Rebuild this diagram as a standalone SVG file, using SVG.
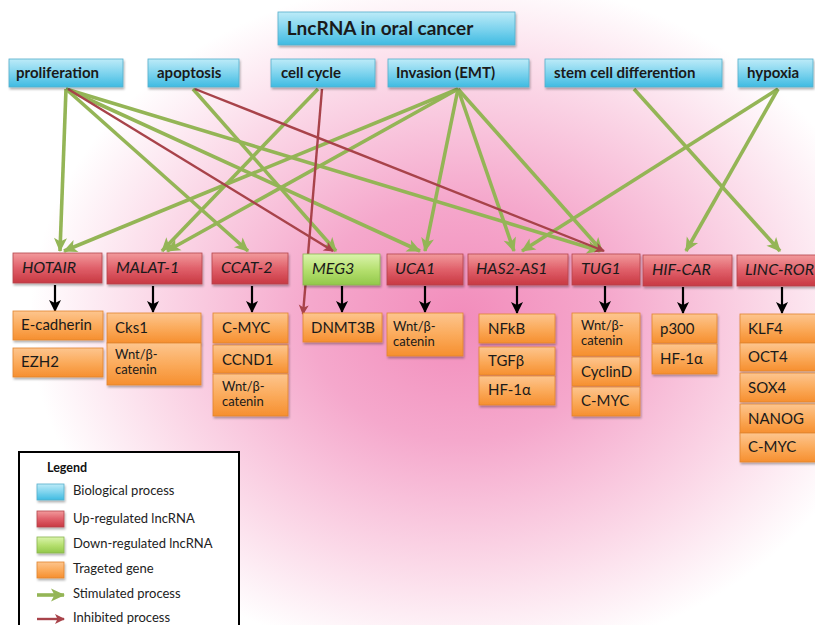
<svg xmlns="http://www.w3.org/2000/svg" width="815" height="625" viewBox="0 0 815 625">
<defs>
<radialGradient id="bg" gradientUnits="userSpaceOnUse" cx="460" cy="320" r="430" gradientTransform="translate(460 320) scale(1 0.8) translate(-460 -320)">
<stop offset="0" stop-color="#f28cbb"/>
<stop offset="0.35" stop-color="#f5a8cc"/>
<stop offset="0.72" stop-color="#fbd9e8"/>
<stop offset="1" stop-color="#ffffff"/>
</radialGradient>
<linearGradient id="gBlue" x1="0" y1="0" x2="0" y2="1">
<stop offset="0" stop-color="#bdebf8"/>
<stop offset="0.5" stop-color="#7fd4ee"/>
<stop offset="1" stop-color="#3fbbe2"/>
</linearGradient>
<linearGradient id="gRed" x1="0" y1="0" x2="0" y2="1">
<stop offset="0" stop-color="#f29a9c"/>
<stop offset="0.5" stop-color="#e0606a"/>
<stop offset="1" stop-color="#c83842"/>
</linearGradient>
<linearGradient id="gGreen" x1="0" y1="0" x2="0" y2="1">
<stop offset="0" stop-color="#dbf4ad"/>
<stop offset="0.5" stop-color="#b6e070"/>
<stop offset="1" stop-color="#92c84a"/>
</linearGradient>
<linearGradient id="gOrange" x1="0" y1="0" x2="0" y2="1">
<stop offset="0" stop-color="#fdc58e"/>
<stop offset="0.5" stop-color="#fbab5c"/>
<stop offset="1" stop-color="#f68f2f"/>
</linearGradient>
<filter id="sh" x="-10%" y="-10%" width="130%" height="150%">
<feDropShadow dx="1" dy="2" stdDeviation="1.2" flood-color="#000" flood-opacity="0.3"/>
</filter>
<marker id="ahG" markerUnits="userSpaceOnUse" markerWidth="16" markerHeight="16" viewBox="0 0 16 16" refX="14" refY="8" orient="auto">
<path d="M1,1.5 L15,8 L1,14.5 L4.5,8 Z" fill="#94b556"/>
</marker>
<marker id="ahR" markerUnits="userSpaceOnUse" markerWidth="12" markerHeight="12" viewBox="0 0 12 12" refX="10" refY="6" orient="auto">
<path d="M1,1 L11,6 L1,11 L3.5,6 Z" fill="#a8434a"/>
</marker>
<marker id="ahK" markerUnits="userSpaceOnUse" markerWidth="14" markerHeight="14" viewBox="0 0 14 14" refX="12" refY="7" orient="auto">
<path d="M1,1 L13,7 L1,13 L4,7 Z" fill="#000"/>
</marker>
<style>
.proc{fill:url(#gBlue);stroke:#56aecb;stroke-width:0.8;filter:url(#sh)}
.up{fill:url(#gRed);stroke:#b5454c;stroke-width:0.8;filter:url(#sh)}
.down{fill:url(#gGreen);stroke:#8bb451;stroke-width:0.8;filter:url(#sh)}
.gene{fill:url(#gOrange);stroke:#e0852f;stroke-width:0.8;filter:url(#sh)}
.pt{font-family:Lato,"Open Sans",sans-serif;font-weight:bold;font-size:15px;fill:#1a1a1a}
.title{font-family:Lato,"Open Sans",sans-serif;font-weight:bold;font-size:19px;fill:#1a1a1a}
.lt{font-family:Lato,"Open Sans",sans-serif;font-style:italic;font-size:16px;fill:#1a1a1a}
.gt{font-family:Lato,"Open Sans",sans-serif;font-size:15px;fill:#1a1a1a}
.gs{font-family:Lato,"Open Sans",sans-serif;font-size:13px;fill:#1a1a1a}
.leg{font-family:Lato,"Open Sans",sans-serif;font-size:13px;fill:#222}
.legh{font-family:Lato,"Open Sans",sans-serif;font-weight:bold;font-size:12.5px;fill:#111}
.cg{stroke:#94b556;stroke-width:3.6;fill:none;marker-end:url(#ahG)}
.cr{stroke:#a8434a;stroke-width:2.4;fill:none;marker-end:url(#ahR)}
.ck{stroke:#000;stroke-width:2.2;fill:none;marker-end:url(#ahK)}
</style>
</defs>
<rect x="0" y="0" width="815" height="625" fill="#fff"/>
<rect x="0" y="0" width="815" height="625" fill="url(#bg)"/>

<g id="connectors">
<line class="cg" x1="66" y1="89" x2="60" y2="251"/>
<line class="cg" x1="66" y1="89" x2="248" y2="251"/>
<line class="cg" x1="66" y1="89" x2="420" y2="251"/>
<line class="cg" x1="66" y1="89" x2="600" y2="251"/>
<line class="cg" x1="193" y1="89" x2="336" y2="251"/>
<line class="cg" x1="318" y1="89" x2="162" y2="251"/>
<line class="cg" x1="458" y1="89" x2="64" y2="251"/>
<line class="cg" x1="458" y1="89" x2="167" y2="251"/>
<line class="cg" x1="458" y1="89" x2="425" y2="251"/>
<line class="cg" x1="458" y1="89" x2="514" y2="251"/>
<line class="cg" x1="458" y1="89" x2="602" y2="251"/>
<line class="cg" x1="634" y1="89" x2="780" y2="251"/>
<line class="cg" x1="778" y1="89" x2="522" y2="251"/>
<line class="cg" x1="778" y1="89" x2="686" y2="251"/>
<line class="cr" x1="68" y1="89" x2="333" y2="251"/>
<line class="cr" x1="195" y1="89" x2="604" y2="251"/>
<line class="cr" x1="322" y1="89" x2="303" y2="314"/>
<line class="ck" x1="55" y1="285" x2="55" y2="311"/>
<line class="ck" x1="153" y1="286" x2="153" y2="312"/>
<line class="ck" x1="252" y1="286" x2="252" y2="312"/>
<line class="ck" x1="342" y1="286" x2="342" y2="312"/>
<line class="ck" x1="425" y1="286" x2="425" y2="312"/>
<line class="ck" x1="517" y1="286" x2="517" y2="313"/>
<line class="ck" x1="605" y1="286" x2="605" y2="312"/>
<line class="ck" x1="683" y1="287" x2="683" y2="313"/>
<line class="ck" x1="782" y1="287" x2="782" y2="313"/>
</g>

<g id="title"><rect class="proc" x="278" y="12" width="237" height="33"/><text class="title" x="380" y="35" text-anchor="middle">LncRNA in oral cancer</text></g>

<g id="proliferation"><rect class="proc" x="9" y="59" width="114" height="28"/><text class="pt" x="16" y="78">proliferation</text></g>
<g id="apoptosis"><rect class="proc" x="148" y="59" width="91" height="28"/><text class="pt" x="157" y="78">apoptosis</text></g>
<g id="cellcycle"><rect class="proc" x="271" y="59" width="104" height="28"/><text class="pt" x="281" y="78">cell cycle</text></g>
<g id="invasion"><rect class="proc" x="388" y="59" width="141" height="28"/><text class="pt" x="396" y="78">Invasion (EMT)</text></g>
<g id="stemcell"><rect class="proc" x="545" y="59" width="177" height="28"/><text class="pt" x="554" y="78">stem cell differention</text></g>
<g id="hypoxia"><rect class="proc" x="738" y="59" width="75" height="28"/><text class="pt" x="747" y="78">hypoxia</text></g>

<g id="HOTAIR"><rect class="up" x="13" y="253" width="89" height="30"/><text class="lt" x="22" y="273">HOTAIR</text></g>
<g id="MALAT-1"><rect class="up" x="107" y="253" width="95" height="31"/><text class="lt" x="116" y="273">MALAT-1</text></g>
<g id="CCAT-2"><rect class="up" x="212" y="253" width="76" height="31"/><text class="lt" x="221" y="273">CCAT-2</text></g>
<g id="MEG3"><rect class="down" x="303" y="254" width="77" height="31"/><text class="lt" x="312" y="274">MEG3</text></g>
<g id="UCA1"><rect class="up" x="387" y="254" width="76" height="31"/><text class="lt" x="395" y="274">UCA1</text></g>
<g id="HAS2-AS1"><rect class="up" x="468" y="254" width="100" height="31"/><text class="lt" x="476" y="274">HAS2-AS1</text></g>
<g id="TUG1"><rect class="up" x="572" y="254" width="68" height="31"/><text class="lt" x="581" y="274">TUG1</text></g>
<g id="HIF-CAR"><rect class="up" x="643" y="255" width="89" height="31"/><text class="lt" x="652" y="275">HIF-CAR</text></g>
<g id="LINC-ROR"><rect class="up" x="737" y="255" width="82" height="31"/><text class="lt" x="745" y="275">LINC-ROR</text></g>

<g id="E-cadherin"><rect class="gene" x="13" y="311" width="90" height="29"/><text class="gt" x="21" y="330">E-cadherin</text></g>
<g id="EZH2"><rect class="gene" x="13" y="348" width="90" height="29"/><text class="gt" x="21" y="367">EZH2</text></g>

<g id="Cks1"><rect class="gene" x="107" y="313" width="94" height="30"/><text class="gt" x="115" y="333">Cks1</text></g>
<g id="MALAT-Wnt"><rect class="gene" x="107" y="343" width="94" height="42"/><text class="gs" x="115" y="359">Wnt/β-</text><text class="gs" x="115" y="374">catenin</text></g>

<g id="CCAT-CMYC"><rect class="gene" x="213" y="313" width="75" height="30"/><text class="gt" x="222" y="333">C-MYC</text></g>
<g id="CCND1"><rect class="gene" x="213" y="345" width="75" height="28"/><text class="gt" x="222" y="365">CCND1</text></g>
<g id="CCAT-Wnt"><rect class="gene" x="213" y="374" width="75" height="42"/><text class="gs" x="222" y="391">Wnt/β-</text><text class="gs" x="222" y="406">catenin</text></g>

<g id="DNMT3B"><rect class="gene" x="303" y="313" width="79" height="29"/><text class="gt" x="311" y="333">DNMT3B</text></g>

<g id="UCA1-Wnt"><rect class="gene" x="387" y="313" width="76" height="43"/><text class="gs" x="393" y="331">Wnt/β-</text><text class="gs" x="393" y="346">catenin</text></g>

<g id="NFkB"><rect class="gene" x="479" y="314" width="76" height="29"/><text class="gt" x="488" y="334">NFkB</text></g>
<g id="TGFb"><rect class="gene" x="479" y="347" width="76" height="28"/><text class="gt" x="488" y="366">TGFβ</text></g>
<g id="HAS-HF1a"><rect class="gene" x="479" y="376" width="76" height="29"/><text class="gt" x="488" y="395">HF-1α</text></g>

<g id="TUG1-Wnt"><rect class="gene" x="572" y="313" width="68" height="43"/><text class="gs" x="581" y="330">Wnt/β-</text><text class="gs" x="581" y="345">catenin</text></g>
<g id="CyclinD"><rect class="gene" x="572" y="357" width="68" height="29"/><text class="gt" x="581" y="377">CyclinD</text></g>
<g id="TUG1-CMYC"><rect class="gene" x="572" y="387" width="68" height="29"/><text class="gt" x="581" y="406">C-MYC</text></g>

<g id="p300"><rect class="gene" x="652" y="314" width="65" height="29"/><text class="gt" x="660" y="334">p300</text></g>
<g id="HIF-HF1a"><rect class="gene" x="652" y="344" width="65" height="30"/><text class="gt" x="660" y="364">HF-1α</text></g>

<g id="KLF4"><rect class="gene" x="740" y="314" width="80" height="29"/><text class="gt" x="748" y="334">KLF4</text></g>
<g id="OCT4"><rect class="gene" x="740" y="343" width="80" height="28"/><text class="gt" x="748" y="362">OCT4</text></g>
<g id="SOX4"><rect class="gene" x="740" y="373" width="80" height="29"/><text class="gt" x="748" y="393">SOX4</text></g>
<g id="NANOG"><rect class="gene" x="740" y="404" width="80" height="29"/><text class="gt" x="748" y="424">NANOG</text></g>
<g id="LINC-CMYC"><rect class="gene" x="740" y="433" width="80" height="29"/><text class="gt" x="748" y="452">C-MYC</text></g>

<g id="legend">
<rect x="19" y="452" width="220" height="185" fill="#fff" stroke="#000" stroke-width="2"/>
<text class="legh" x="47" y="472">Legend</text>
<rect class="proc" x="37" y="484" width="27" height="16"/><text class="leg" x="73" y="495">Biological process</text>
<rect class="up" x="37" y="511" width="27" height="16"/><text class="leg" x="73" y="523">Up-regulated lncRNA</text>
<rect class="down" x="37" y="537" width="27" height="16"/><text class="leg" x="73" y="548">Down-regulated lncRNA</text>
<rect class="gene" x="37" y="562" width="27" height="16"/><text class="leg" x="73" y="573">Trageted gene</text>
<line class="cg" x1="37" y1="595" x2="64" y2="595"/><text class="leg" x="73" y="598">Stimulated process</text>
<line class="cr" x1="37" y1="619" x2="64" y2="619"/><text class="leg" x="73" y="622">Inhibited process</text>
</g>
</svg>
